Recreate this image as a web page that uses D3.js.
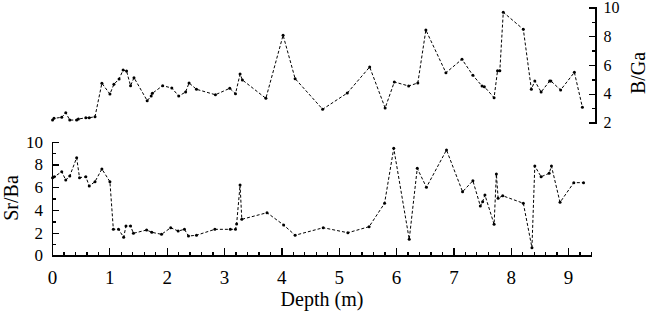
<!DOCTYPE html>
<meta charset="utf-8">
<script type="text/javascript" src="https://cdn.jsdelivr.net/npm/d3@7/dist/d3.min.js"></script>
<style>
body { margin: 0; background: #fff; }

path.line {
  fill: none;
  stroke: #000;
  stroke-width: 1px;
  stroke-dasharray: 3,2;
}

circle.dot {
  fill: #000;
}

.axis path, .axis line {
  stroke: #000;
  stroke-width: 1.3px;
  shape-rendering: crispEdges;
}

.axis text {
  fill: #000;
}

text.title {
  font-family: "Liberation Serif", "DejaVu Serif", serif;
  font-size: 20px;
  fill: #000;
}
</style>
<body>
<script>

// B/Ga (upper panel)
var bgaDepth = [0.01, 0.035, 0.17, 0.24, 0.31, 0.43, 0.46, 0.59, 0.65, 0.75,
  0.87, 1.01, 1.08, 1.17, 1.24, 1.30, 1.37, 1.43, 1.66, 1.73, 1.75, 1.93,
  2.09, 2.21, 2.33, 2.39, 2.52, 2.85, 3.10, 3.20, 3.28, 3.32, 3.73, 4.03,
  4.24, 4.72, 5.15, 5.54, 5.81, 5.97, 6.22, 6.38, 6.52, 6.87, 7.15, 7.34,
  7.50, 7.54, 7.71, 7.77, 7.81, 7.87, 8.22, 8.36, 8.42, 8.53, 8.68, 8.70,
  8.87, 9.11, 9.25];
var bgaValue = [2.17, 2.29, 2.36, 2.68, 2.17, 2.17, 2.24, 2.33, 2.33, 2.4,
  4.73, 3.98, 4.66, 5.03, 5.65, 5.58, 4.56, 5.12, 3.52, 3.84, 4.03, 4.56,
  4.4, 3.84, 4.12, 4.75, 4.31, 3.93, 4.38, 4.0, 5.37, 4.96, 3.68, 8.07,
  5.05, 2.92, 4.05, 5.86, 3.01, 4.82, 4.54, 4.75, 8.43, 5.46, 6.4, 5.28,
  4.54, 4.49, 3.73, 5.6, 5.6, 9.67, 8.48, 4.31, 4.89, 4.12, 4.89, 4.89,
  4.26, 5.49, 3.06];

// Sr/Ba (lower panel)
var srbaDepth = [0.01, 0.04, 0.17, 0.24, 0.31, 0.43, 0.48, 0.59, 0.65, 0.75,
  0.87, 1.01, 1.07, 1.16, 1.25, 1.29, 1.37, 1.42, 1.65, 1.74, 1.91, 2.07,
  2.20, 2.31, 2.38, 2.52, 2.84, 3.11, 3.20, 3.22, 3.28, 3.31, 3.75, 4.04,
  4.24, 4.73, 5.16, 5.53, 5.80, 5.96, 6.23, 6.37, 6.53, 6.88, 7.16, 7.34,
  7.47, 7.51, 7.55, 7.71, 7.75, 7.78, 7.86, 8.22, 8.37, 8.42, 8.53, 8.67,
  8.71, 8.86, 9.10, 9.27];
var srbaValue = [6.84, 6.92, 7.36, 6.63, 6.99, 8.59, 6.84, 6.92, 6.11, 6.49,
  7.6, 6.49, 2.3, 2.3, 1.6, 2.59, 2.59, 1.95, 2.24, 2.04, 1.86, 2.44,
  2.15, 2.3, 1.71, 1.78, 2.3, 2.3, 2.3, 2.77, 6.2, 3.18, 3.76, 2.68,
  1.78, 2.44, 2.0, 2.53, 4.59, 9.42, 1.42, 7.66, 5.99, 9.27, 5.6, 6.57,
  4.35, 4.73, 5.32, 2.74, 7.16, 5.03, 5.25, 4.59, 0.69, 7.86, 6.92, 7.22,
  7.86, 4.67, 6.4, 6.4];

var depthTicks = [0, 1, 2, 3, 4, 5, 6, 7, 8, 9];
var bgaTicks = [2, 4, 6, 8, 10];
var srbaTicks = [0, 2, 4, 6, 8, 10];

var width = 650,
    height = 314;
var serif = "'Liberation Serif', 'DejaVu Serif', serif";

var svg = d3.select("body").append("svg")
    .attr("width", width)
    .attr("height", height);

var x = d3.scaleLinear().domain([0, 9.4]).range([52, 591]);
var yTop = d3.scaleLinear().domain([2, 10]).range([122.5, 7.5]);
var yBot = d3.scaleLinear().domain([0, 10]).range([255.5, 141.7]);

// upper panel: right axis only
svg.append("g")
    .attr("class", "axis")
    .attr("transform", "translate(595.5,0)")
    .call(d3.axisRight(yTop).tickValues(d3.range(3, 10, 2)).tickSize(-4).tickFormat(""));
svg.append("g")
    .attr("class", "axis")
    .attr("transform", "translate(595.5,0)")
    .call(d3.axisRight(yTop).tickValues(bgaTicks).tickSizeInner(-7).tickSizeOuter(0).tickPadding(8))
    .attr("font-family", serif)
    .attr("font-size", 16);

// lower panel axes
svg.append("g")
    .attr("class", "axis")
    .attr("transform", "translate(52,0)")
    .call(d3.axisLeft(yBot).tickValues(d3.range(1, 10, 2)).tickSize(-4).tickFormat(""));
svg.append("g")
    .attr("class", "axis")
    .attr("transform", "translate(52,0)")
    .call(d3.axisLeft(yBot).tickValues(srbaTicks).tickSizeInner(-7).tickSizeOuter(0).tickPadding(9))
    .attr("font-family", serif)
    .attr("font-size", 17);

svg.append("g")
    .attr("class", "axis")
    .attr("transform", "translate(0,255.5)")
    .call(d3.axisBottom(x).tickValues(d3.range(0, 47).map(function(i) { return i * 0.2; })).tickSize(-4).tickFormat(""));
svg.append("g")
    .attr("class", "axis")
    .attr("transform", "translate(0,255.5)")
    .call(d3.axisBottom(x).tickValues(depthTicks).tickSizeInner(-8).tickSizeOuter(0).tickPadding(15))
    .attr("font-family", serif)
    .attr("font-size", 19);

// the two series
function drawSeries(depth, value, y) {
  var pts = depth.map(function(d, i) { return [d, value[i]]; });
  var line = d3.line()
      .x(function(d) { return x(d[0]); })
      .y(function(d) { return y(d[1]); });
  svg.append("path")
      .datum(pts)
      .attr("class", "line")
      .attr("d", line);
  svg.append("g")
      .selectAll("circle")
      .data(pts)
      .enter()
      .append("circle")
      .attr("class", "dot")
      .attr("r", 1.5)
      .attr("cx", function(d) { return x(d[0]); })
      .attr("cy", function(d) { return y(d[1]); });
}

drawSeries(bgaDepth, bgaValue, yTop);
drawSeries(srbaDepth, srbaValue, yBot);

// titles
svg.append("text")
    .attr("class", "title")
    .attr("x", 322)
    .attr("y", 306)
    .attr("text-anchor", "middle")
    .text("Depth (m)");

svg.append("text")
    .attr("class", "title")
    .attr("transform", "translate(18,198) rotate(-90)")
    .attr("text-anchor", "middle")
    .text("Sr/Ba");

svg.append("text")
    .attr("class", "title")
    .attr("transform", "translate(645,73) rotate(-90)")
    .attr("text-anchor", "middle")
    .text("B/Ga");

</script>
</body>
